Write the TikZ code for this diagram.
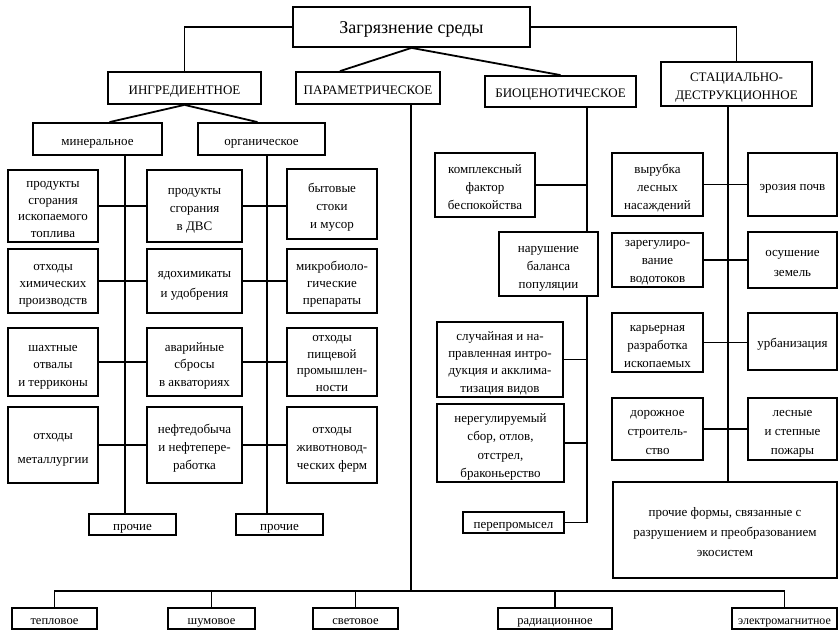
\documentclass[tikz,border=0pt]{standalone}
\usepackage{fontspec}
\setmainfont{Liberation Serif}
\usetikzlibrary{positioning,backgrounds}
\newcommand{\rowtop}[1][17pt]{\rule{0pt}{#1}}

\begin{document}
\begin{tikzpicture}[
x=1pt, y=-1pt,
font=\fontsize{13}{18}\selectfont,
block/.style={draw, line width=1.8pt, fill=white, align=center, inner sep=1pt,
  execute at begin node={\rule{0pt}{16pt}},
  execute at end node={\rule[-3.5pt]{0pt}{3.5pt}}},
sz/.style 2 args={minimum width=#1, minimum height=#2},
lead/.style={font=\fontsize{13}{#1}\selectfont},
link/.style={line width=1.8pt}
]
    \useasboundingbox (0,0) rectangle (839,631);

    % top levels
    \node[block, sz={237pt}{40pt}, font=\fontsize{18}{22}\selectfont] (title) at (411.5,27) {Загрязнение среды};
    \node[block, sz={153pt}{32pt}] (ingr) at (184.5,88) {ИНГРЕДИЕНТНОЕ};
    \node[block, sz={144pt}{32pt}] (param) at (368,88) {ПАРАМЕТРИЧЕСКОЕ};
    \node[block, sz={151pt}{31pt}] (bio) at (560.5,91.5) {БИОЦЕНОТИЧЕСКОЕ};
    \node[block, sz={151pt}{44pt}] (stac) at (736.5,84) {\rowtop СТАЦИАЛЬНО-\\ДЕСТРУКЦИОННОЕ};

    \node[block, sz={129pt}{32pt}] (miner) at (97.5,139) {минеральное};
    \node[block, sz={127pt}{32pt}] (organ) at (261.5,139) {органическое};

    % ingredient columns
    \node[block, lead=16.5pt, sz={90pt}{72pt}] (min1) at (53,206) {\rowtop продукты\\сгорания\\ископаемого\\топлива};
    \node[block, lead=17pt, sz={90pt}{64pt}] (min2) at (53,281) {\rowtop отходы\\химических\\производств};
    \node[block, lead=17.5pt, sz={90pt}{68pt}] (min3) at (53,362) {\rowtop шахтные\\отвалы\\и терриконы};
    \node[block, lead=24pt, sz={90pt}{76pt}] (min4) at (53,445) {\rowtop отходы\\металлургии};

    \node[block, sz={95pt}{72pt}] (mid1) at (194.5,206) {\rowtop продукты\\сгорания\\в ДВС};
    \node[block, lead=20pt, sz={95pt}{64pt}] (mid2) at (194.5,281) {\rowtop ядохимикаты\\и удобрения};
    \node[block, lead=17.5pt, sz={95pt}{68pt}] (mid3) at (194.5,362) {\rowtop аварийные\\сбросы\\в акваториях};
    \node[block, sz={95pt}{76pt}] (mid4) at (194.5,445) {\rowtop нефтедобыча\\и нефтепере-\\работка};

    \node[block, sz={90pt}{70pt}] (org1) at (332,204) {\rowtop бытовые\\стоки\\и мусор};
    \node[block, lead=17pt, sz={90pt}{64pt}] (org2) at (332,281) {\rowtop микробиоло-\\гические\\препараты};
    \node[block, lead=16.5pt, sz={90pt}{68pt}] (org3) at (332,362) {\rowtop[13pt]отходы\\пищевой\\промышлен-\\ности};
    \node[block, sz={90pt}{76pt}] (org4) at (332,445) {\rowtop отходы\\животновод-\\ческих ферм};

    \node[block, sz={87pt}{19pt}] (oth1) at (132.5,524.5) {прочие};
    \node[block, sz={87pt}{19pt}] (oth2) at (279.5,524.5) {прочие};

    % biocenotic
    \node[block, sz={100pt}{64pt}] (kompl) at (485,185) {\rowtop комплексный\\фактор\\беспокойства};
    \node[block, sz={99pt}{64pt}] (narush) at (548.5,264) {\rowtop нарушение\\баланса\\популяции};
    \node[block, lead=17.5pt, sz={126pt}{75pt}] (sluch) at (500,359.5) {\rowtop случайная и на-\\правленная интро-\\дукция и акклима-\\тизация видов};
    \node[block, lead=18.5pt, sz={127pt}{78pt}] (nereg) at (500.5,443) {\rowtop нерегулируемый\\сбор, отлов,\\отстрел,\\браконьерство};
    \node[block, sz={101pt}{19pt}] (pere) at (513.5,522.5) {перепромысел};

    % stational-destructive
    \node[block, sz={91pt}{63pt}] (vyr) at (657.5,184.5) {\rowtop вырубка\\лесных\\насаждений};
    \node[block, sz={91pt}{54pt}] (zareg) at (657.5,260) {\rowtop[12pt]зарегулиро-\\вание\\водотоков};
    \node[block, sz={91pt}{59pt}] (kar) at (657.5,342.5) {\rowtop карьерная\\разработка\\ископаемых};
    \node[block, lead=19pt, sz={91pt}{62pt}] (dor) at (657.5,429) {\rowtop дорожное\\строитель-\\ство};
    \node[block, sz={89pt}{63pt}] (eroz) at (792.5,184.5) {эрозия почв};
    \node[block, lead=19.5pt, sz={89pt}{56pt}] (osush) at (792.5,260) {\rowtop осушение\\земель};
    \node[block, sz={89pt}{57pt}] (urban) at (792.5,341.5) {урбанизация};
    \node[block, lead=19pt, sz={89pt}{62pt}] (pozh) at (792.5,429) {\rowtop лесные\\и степные\\пожары};
    \node[block, lead=20pt, sz={224pt}{96pt}] (other) at (725,530) {\rowtop прочие формы, связанные с\\разрушением и преобразованием\\экосистем};

    % parametric
    \begin{scope}[font=\fontsize{12.5}{15}\selectfont]
    \node[block, sz={85pt}{19pt}] (teplo) at (54.5,618.5) {тепловое};
    \node[block, sz={87pt}{19pt}] (shum) at (211.5,618.5) {шумовое};
    \node[block, sz={85pt}{19pt}] (svet) at (355.5,618.5) {световое};
    \node[block, sz={114pt}{19pt}] (rad) at (555,618.5) {радиационное};
    \node[block, sz={105pt}{19pt}, font=\fontsize{12}{15}\selectfont] (elmag) at (784.5,618.5) {электромагнитное};
    \end{scope}

    \coordinate (mx) at (125,0);
    \coordinate (ox) at (267,0);
    \coordinate (px) at (411,0);
    \coordinate (bx) at (587,0);
    \coordinate (sx) at (728,0);
    \coordinate (bus) at (0,591);

    % Draw connectors
    \begin{scope}[on background layer]
    \draw[link] (title.west) -| (ingr.north);
    \draw[link] (title.east) -| (stac.north);
    \draw[link] (title.south) -- ([xshift=-28pt]param.north);
    \draw[link] (title.south) -- (bio.north);
    \draw[link] (ingr.south) -- ([xshift=12pt]miner.north);
    \draw[link] (ingr.south) -- ([xshift=-4pt]organ.north);

    \draw[link] (miner.south -| mx) -- (oth1.north -| mx);
    \draw[link] (organ.south -| ox) -- (oth2.north -| ox);
    \foreach \i in {1,...,4} {
        \draw[link] (min\i.east) -- (min\i.east -| mid\i.west);
        \draw[link] (mid\i.east) -- (mid\i.east -| org\i.west);
    }

    \draw[link] (bio.south -| bx) |- (pere.east);
    \foreach \n in {kompl,sluch,nereg}
        \draw[link] (\n.east) -- (\n.east -| bx);

    \draw[link] (stac.south -| sx) -- (other.north -| sx);
    \draw[link] (vyr.east) -- (vyr.east -| eroz.west);
    \draw[link] (zareg.east) -- (zareg.east -| osush.west);
    \draw[link] (kar.east) -- (kar.east -| urban.west);
    \draw[link] (dor.east) -- (dor.east -| pozh.west);

    \draw[link] (param.south -| px) -- (px |- bus);
    \draw[link] (teplo.north) -- (teplo.north |- bus) -- (elmag.north |- bus) -- (elmag.north);
    \foreach \n in {shum,svet,rad}
        \draw[link] (\n.north) -- (\n.north |- bus);
    \end{scope}
\end{tikzpicture}
\end{document}
